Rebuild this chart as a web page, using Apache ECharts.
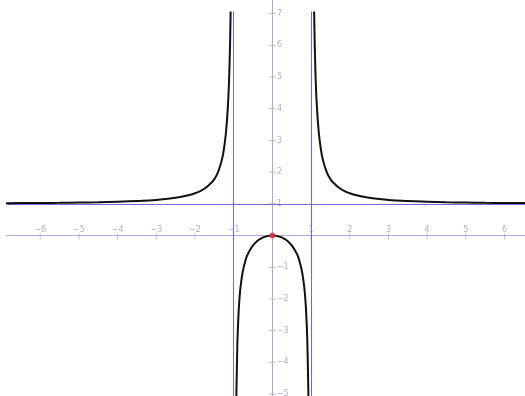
<!DOCTYPE html>
<html><head><meta charset="utf-8">
<script src="https://cdn.jsdelivr.net/npm/echarts@6/dist/echarts.min.js"></script>
<style>html,body{margin:0;padding:0;background:#fff}#c{width:525px;height:396px}</style>
</head><body><div id="c"></div>
<script>
// Curve readings (x, y) for the three branches
const leftX = [-7.1,-6.5,-6,-5.5,-5,-4.5,-4,-3.5,-3,-2.5,-2.2,-2,-1.8,-1.6,-1.5,-1.4,-1.3,-1.25,-1.2,-1.15,-1.12,-1.1,-1.09,-1.079];
const leftY = [1.020,1.024,1.029,1.034,1.042,1.052,1.067,1.089,1.125,1.190,1.265,1.333,1.446,1.641,1.780,2.020,2.420,2.760,3.250,4.080,4.900,5.760,6.300,7.070];
const midX = [-0.935,-0.93,-0.92,-0.91,-0.9,-0.88,-0.86,-0.83,-0.8,-0.76,-0.72,-0.66,-0.6,-0.5,-0.4,-0.3,-0.2,-0.1,0,0.1,0.2,0.3,0.4,0.5,0.6,0.66,0.72,0.76,0.8,0.83,0.86,0.88,0.9,0.91,0.92,0.93,0.935];
const midY = [-5.6,-5.0,-4.3,-3.7,-3.2,-2.6,-2.15,-1.7,-1.4,-1.1,-0.9,-0.65,-0.5,-0.31,-0.18,-0.095,-0.04,-0.01,0,-0.01,-0.04,-0.095,-0.18,-0.31,-0.5,-0.65,-0.9,-1.1,-1.4,-1.7,-2.15,-2.6,-3.2,-3.7,-4.3,-5.0,-5.6];
const rightX = [1.079,1.09,1.1,1.12,1.15,1.2,1.25,1.3,1.4,1.5,1.6,1.8,2,2.2,2.5,3,3.5,4,4.5,5,5.5,6,6.6];
const rightY = [7.070,6.300,5.760,4.900,4.080,3.250,2.760,2.420,2.020,1.780,1.641,1.446,1.333,1.265,1.190,1.125,1.089,1.067,1.052,1.042,1.034,1.029,1.024];
const extremumPoint = [[0, 0]];
const verticalAsymptotes = [-1, 1];
const verticalAsymptoteTop = 7.07;
const horizontalAsymptotes = [1];
const xTickValues = [-6,-5,-4,-3,-2,-1,1,2,3,4,5,6];
const yTickValues = [-5,-4,-3,-2,-1,1,2,3,4,5,6,7];
const xRange = [-6.86, 6.53];
const yRange = [-5.06, 7.43];

const zip = (a, b) => a.map((v, i) => [v, b[i]]);
const axisCol = '#aaaadf';
const asymCol = '#6b6bd6';
const labelCol = '#9c9cbc';
const fmt = v => (v < 0 ? '\u2212' + (-v) : String(v));
const curve = (name, d) => ({
  name, type: 'line', data: d, showSymbol: false, smooth: true,
  lineStyle: { color: '#111', width: 2 }, z: 5, clip: true, animation: false, silent: true
});

const chart = echarts.init(document.getElementById('c'));
chart.setOption({
  animation: false,
  grid: { left: 7, right: 0, top: 0, bottom: 0, containLabel: false },
  xAxis: {
    type: 'value', min: xRange[0], max: xRange[1],
    axisLine: { onZero: true, lineStyle: { color: axisCol, width: 1 } },
    axisTick: { show: false }, axisLabel: { show: false }, splitLine: { show: false }
  },
  yAxis: {
    type: 'value', min: yRange[0], max: yRange[1],
    axisLine: { onZero: true, lineStyle: { color: axisCol, width: 1 } },
    axisTick: { show: false }, axisLabel: { show: false }, splitLine: { show: false }
  },
  series: [
    {
      name: 'asymptotes', type: 'line', data: [], silent: true,
      markLine: {
        symbol: 'none', silent: true, animation: false, label: { show: false },
        lineStyle: { color: asymCol, width: 1, type: 'solid' },
        data: verticalAsymptotes.map(v => [{ coord: [v, verticalAsymptoteTop] }, { coord: [v, yRange[0]] }])
          .concat(horizontalAsymptotes.map(v => ({ yAxis: v })))
      }
    },
    {
      name: 'xTicks', type: 'scatter', silent: true, z: 3,
      data: xTickValues.map(v => [v, 0]),
      symbol: 'rect', symbolSize: [1, 6], symbolOffset: [0, 1],
      itemStyle: { color: axisCol },
      label: { show: true, position: 'top', distance: 0, color: labelCol, fontSize: 8,
        fontFamily: 'DejaVu Sans', formatter: p => fmt(p.value[0]) }
    },
    {
      name: 'yTicks', type: 'scatter', silent: true, z: 3,
      data: yTickValues.map(v => [0, v]),
      symbol: 'rect', symbolSize: [7, 1],
      itemStyle: { color: axisCol },
      label: { show: true, position: 'right', distance: 1, color: labelCol, fontSize: 8,
        fontFamily: 'DejaVu Sans', formatter: p => fmt(p.value[1]) }
    },
    curve('left', zip(leftX, leftY)),
    curve('middle', zip(midX, midY)),
    curve('right', zip(rightX, rightY)),
    {
      name: 'extremum', type: 'scatter', data: extremumPoint, symbolSize: 6, silent: true,
      itemStyle: { color: '#e0303a' }, z: 10
    }
  ]
});
</script></body></html>
